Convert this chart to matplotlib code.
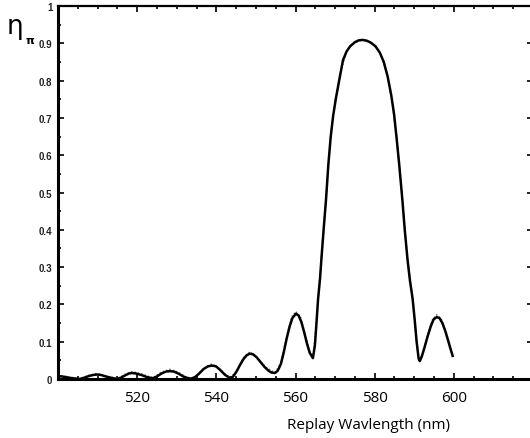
import numpy as np
import matplotlib.pyplot as plt
from matplotlib.ticker import MultipleLocator

wavelength = [500.0, 501.5, 503.0, 504.5, 505.5, 506.5, 507.8, 509.0, 509.8, 510.8,
              512.0, 513.5, 515.0, 516.0, 517.2, 518.0, 518.7, 519.6, 521.0, 522.5,
              524.0, 525.0, 526.2, 527.3, 528.3, 529.3, 530.5, 531.6, 532.6, 533.6,
              534.6, 535.7, 536.8, 537.9, 538.9, 539.9, 541.0, 542.2, 543.4, 544.2,
              545.1, 546.0, 546.9, 547.7, 548.5, 549.3, 550.2, 551.2, 552.2, 553.2,
              554.0, 554.8, 555.5, 556.3, 557.0, 557.8, 558.5, 559.2, 560.1, 560.8,
              561.5, 562.2, 562.9, 563.6, 564.4, 564.9, 565.3, 565.7, 566.2, 566.6,
              567.1, 567.7, 568.3, 568.9, 569.5, 570.2, 571.2, 572.0, 572.9, 573.8,
              575.0, 576.0, 577.0, 578.0, 579.0, 580.2, 581.3, 582.3, 583.3, 584.2,
              584.9, 585.5, 586.2, 587.0, 587.6, 588.3, 588.9, 589.6, 590.1, 590.6,
              591.1, 591.4, 591.9, 592.6, 593.4, 594.2, 594.9, 595.7, 596.4, 597.1,
              597.8, 598.5, 599.1, 599.7]
measured = [0.008, 0.006, 0.003, 0.001, 0.000, 0.003, 0.008, 0.011, 0.012, 0.011,
            0.007, 0.003, 0.000, 0.004, 0.011, 0.015, 0.016, 0.015, 0.011, 0.005,
            0.002, 0.007, 0.015, 0.020, 0.021, 0.020, 0.014, 0.007, 0.003, 0.001,
            0.005, 0.015, 0.027, 0.034, 0.036, 0.034, 0.024, 0.011, 0.003, 0.006,
            0.020, 0.038, 0.054, 0.064, 0.068, 0.066, 0.058, 0.045, 0.032, 0.022,
            0.017, 0.016, 0.022, 0.040, 0.070, 0.110, 0.140, 0.163, 0.175, 0.170,
            0.152, 0.125, 0.095, 0.070, 0.056, 0.090, 0.150, 0.214, 0.270, 0.330,
            0.400, 0.480, 0.575, 0.650, 0.705, 0.752, 0.810, 0.855, 0.878, 0.892,
            0.903, 0.908, 0.909, 0.907, 0.902, 0.892, 0.875, 0.850, 0.810, 0.760,
            0.710, 0.650, 0.575, 0.480, 0.400, 0.320, 0.265, 0.214, 0.160, 0.100,
            0.055, 0.048, 0.060, 0.085, 0.115, 0.142, 0.160, 0.166, 0.163, 0.150,
            0.130, 0.105, 0.083, 0.062]

# theory curve (dotted), a little above the measured side lobes
theory_wl = [500.0, 503.0, 505.5, 507.5, 509.8, 512.0, 515.0, 517.0, 518.7, 521.0,
             524.0, 526.0, 528.3, 530.5, 532.6, 534.5, 536.5, 538.9, 541.0, 543.4,
             545.0, 546.8, 548.5, 550.3, 552.5, 554.8, 556.3, 557.8, 559.0, 560.1,
             561.3, 562.6, 563.6, 564.4, 565.0, 565.7, 566.6, 567.7, 568.9, 570.0,
             571.2, 572.9, 574.5, 577.0, 579.3, 581.3, 583.3, 584.5, 585.5, 587.0,
             588.3, 589.6, 590.5, 591.3, 592.3, 593.5, 594.7, 595.7, 596.8, 598.2,
             599.7]
theory = [0.011, 0.005, 0.001, 0.009, 0.015, 0.009, 0.001, 0.013, 0.020, 0.014,
          0.003, 0.018, 0.026, 0.018, 0.004, 0.002, 0.026, 0.041, 0.025, 0.004,
          0.018, 0.057, 0.073, 0.058, 0.032, 0.017, 0.043, 0.116, 0.166, 0.181,
          0.165, 0.114, 0.072, 0.058, 0.118, 0.210, 0.330, 0.480, 0.655, 0.742,
          0.812, 0.880, 0.900, 0.910, 0.900, 0.877, 0.812, 0.735, 0.655, 0.482,
          0.322, 0.212, 0.108, 0.050, 0.072, 0.124, 0.162, 0.172, 0.162, 0.122,
          0.068]

xticks = [520, 540, 560, 580, 600]
yticks = [0, 0.1, 0.2, 0.3, 0.4, 0.5, 0.6, 0.7, 0.8, 0.9, 1.0]
ylabels = ['0', '0.1', '0.2', '0.3', '0.4', '0.5', '0.6', '0.7', '0.8', '0.9', '1']

fig = plt.figure(figsize=(5.30, 4.39), dpi=100)
ax = fig.add_axes([58/530, 1-380/439, 475/530, 373/439])

ax.plot(theory_wl, theory, color='#666666', lw=1.0, ls=':', dashes=(1, 1.5))
ax.plot(wavelength, measured, color='black', lw=1.8)

ax.set_xlim(500, 620)
ax.set_ylim(0, 1)
ax.set_xticks(xticks)
ax.set_xticklabels([str(t) for t in xticks], fontsize=11, family='Open Sans')
ax.set_yticks(yticks)
ax.set_yticklabels(ylabels, fontsize=7, fontweight='bold', family='Liberation Sans', color='#222222')
ax.xaxis.set_minor_locator(MultipleLocator(5))
ax.yaxis.set_minor_locator(MultipleLocator(0.05))
ax.tick_params(which='both', direction='in', top=True, right=True, width=1.2)
ax.tick_params(which='major', length=4)
ax.tick_params(which='minor', length=2)
ax.tick_params(axis='x', pad=8)
ax.tick_params(axis='y', pad=4)
for s in ax.spines.values():
    s.set_linewidth(1.6)
ax.spines['left'].set_linewidth(2.2)
ax.spines['bottom'].set_linewidth(2.2)

ax.set_xlabel('Replay Wavlength (nm)', fontsize=11, family='Open Sans')
ax.xaxis.set_label_coords((368-58)/475, -38/373)

fig.text(7/530, 1-34/439, 'η', fontsize=19, family='DejaVu Sans', va='baseline')
fig.text(25/530, 1-44/439, 'π', fontsize=8, fontweight='bold', family='DejaVu Sans', va='baseline')

fig.savefig('out.png', dpi=100)
